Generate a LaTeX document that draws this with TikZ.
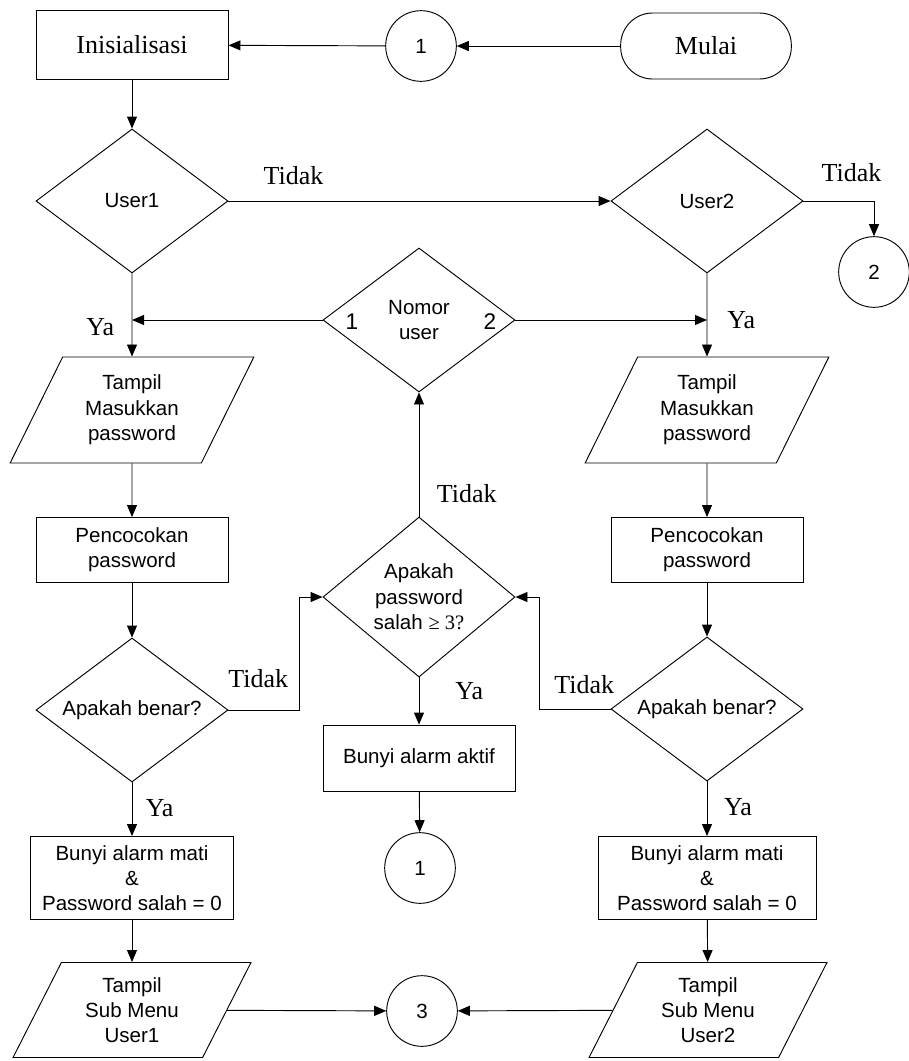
\documentclass[tikz,border=0pt]{standalone}
\usepackage{fontspec}
\setmainfont{Liberation Serif}
\setsansfont{Liberation Sans}
\usetikzlibrary{shapes,arrows.meta,positioning,calc,shapes.geometric}

\newcommand{\sanstext}{\sffamily\fontsize{15.4}{19}\selectfont}
\newcommand{\labeltext}{\rmfamily\fontsize{19.5}{23}\selectfont}

\begin{document}
\begin{tikzpicture}[x=0.75pt, y=-0.75pt, line width=0.7pt]
\tikzstyle{block} = [rectangle, draw, text centered, align=center, font=\sanstext, minimum width=144pt, minimum height=49.5pt, inner sep=2pt]
\tikzstyle{decision} = [diamond, draw, align=center, font=\sanstext, inner sep=0pt, aspect=1.33, minimum width=144pt, minimum height=108pt]
\tikzstyle{io} = [trapezium, trapezium left angle=63.5, trapezium right angle=116.5, trapezium stretches=true, draw, align=center, font=\sanstext, inner sep=2pt, minimum width=183pt, minimum height=79.5pt]
\tikzstyle{connector} = [circle, draw, font=\sanstext, minimum size=53pt, inner sep=0pt]
\tikzstyle{terminal} = [rectangle, rounded corners=24pt, draw, font=\labeltext, minimum width=128pt, minimum height=49.5pt]
\tikzstyle{line} = [draw, -{Triangle[length=9pt,width=7.5pt]}]
\tikzstyle{answer} = [font=\labeltext, inner sep=2pt]

\useasboundingbox (0,0) rectangle (909,1061);

% Start
\node [block, font=\labeltext, minimum height=51.75pt] (init) at (132,45) {Inisialisasi};
\node [connector] (startlink) at (421,46) {1};
\node [terminal] (start) at (706,46) {Mulai};

% User check
\node [decision] (user1) at (132,201) {User1};
\node [decision] (user2) at (707,201) {User2};
\node [connector] (exitlink) at (874,272) {2};
\node [decision] (nomor) at (419,320) {Nomor\\user};
\node [font=\sffamily\fontsize{17}{20}\selectfont] (nomorA) at (352,322) {1};
\node [font=\sffamily\fontsize{17}{20}\selectfont] (nomorB) at (490,322) {2};

% Password input
\node [io] (tampil1) at (132,410) {Tampil\\Masukkan\\password};
\node [io] (tampil2) at (707,410) {Tampil\\Masukkan\\password};
\node [block, minimum height=48.75pt] (cocok1) at (132,550) {Pencocokan\\password};
\node [block, minimum height=48.75pt] (cocok2) at (707,550) {Pencocokan\\password};

% Checks
\node [decision, aspect=1.2, minimum height=120pt] (salah) at (419,597) {Apakah\\password\\salah {\rmfamily ≥ 3?}};
\node [decision] (benar1) at (132,710) {Apakah benar?};
\node [decision] (benar2) at (707,709) {Apakah benar?};
\node [block] (aktif) at (419,758) {Bunyi alarm aktif};
\node [connector] (alarmlink) at (420,868) {1};

% Results
\node [block, minimum width=152pt, minimum height=62.25pt] (mati1) at (132,878) {Bunyi alarm mati\\\&\\Password salah = 0};
\node [block, minimum width=163.5pt, minimum height=62.25pt] (mati2) at (707,878) {Bunyi alarm mati\\\&\\Password salah = 0};
\node [io, trapezium left angle=64.5, trapezium right angle=115.5, minimum width=178.5pt, minimum height=71.25pt] (menu1) at (132,1010) {Tampil\\Sub Menu\\User1};
\node [io, trapezium left angle=64.5, trapezium right angle=115.5, minimum width=178.5pt, minimum height=71.25pt] (menu2) at (708,1010) {Tampil\\Sub Menu\\User2};
\node [connector] (menulink) at (422,1011) {3};

% Connections
\draw [line] (start) -- (startlink);
\draw [line] (startlink) -- (init);
\draw [line] (init) -- (user1);
\draw [line] (user1) -- node [answer, pos=0.17, above=10pt] {Tidak} (user2);
\draw [line] (user2) -| node [answer, pos=0.34, above=12pt] {Tidak} (exitlink);
\draw [line] (user1) -- node [answer, pos=0.64, left=11pt] {Ya} (tampil1);
\draw [line] (user2) -- node [answer, pos=0.56, right=13pt] {Ya} (tampil2);
\draw [line] (nomor) -- (nomor -| user1);
\draw [line] (nomor) -- (nomor -| user2);
\draw [line] (tampil1) -- (cocok1);
\draw [line] (tampil2) -- (cocok2);
\draw [line] (cocok1) -- (benar1);
\draw [line] (cocok2) -- (benar2);
\draw [line] (benar1) -| node [answer, pos=0.21, above=14pt] {Tidak} ($(salah.west)+(-23,0)$) -- (salah.west);
\draw [line] (benar2) -| node [answer, pos=0.185, above=9pt] {Tidak} ($(salah.east)+(24,0)$) -- (salah.east);
\draw [line] (salah) -- node [answer, pos=0.185, right=11pt] {Tidak} (nomor);
\draw [line] (salah) -- node [answer, pos=0.29, right=25pt] {Ya} (aktif);
\draw [line] (aktif) -- (alarmlink);
\draw [line] (benar1) -- node [answer, pos=0.47, right=8pt] {Ya} (mati1);
\draw [line] (benar2) -- node [answer, pos=0.47, right=10.5pt] {Ya} (mati2);
\draw [line] (mati1) -- (menu1);
\draw [line] (mati2) -- (menu2);
\draw [line] (menu1) -- (menulink);
\draw [line] (menu2) -- (menulink);

\end{tikzpicture}
\end{document}
